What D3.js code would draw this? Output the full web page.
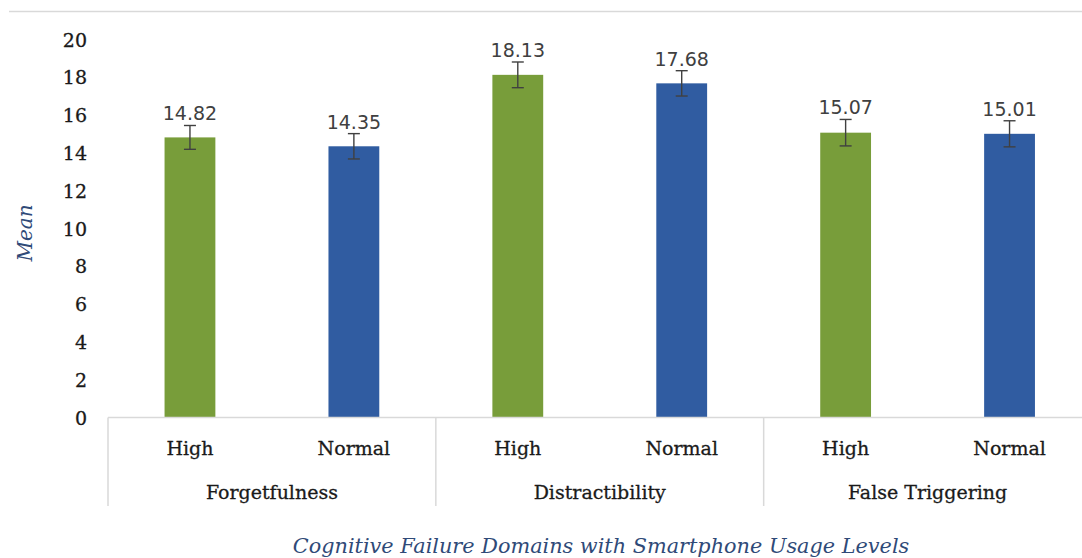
<!DOCTYPE html>
<html>
<head>
<meta charset="utf-8">
<script src="https://cdn.jsdelivr.net/npm/d3@7"></script>
<style>
  html, body { margin: 0; padding: 0; background: #fff; }
  svg { display: block; }
</style>
</head>
<body>
<svg id="chart" width="1082" height="558"></svg>
<script>
// ---- data ----
const domains = ["Forgetfulness", "Distractibility", "False Triggering"];
const levels = ["High", "Normal"];
const highMeans = [14.82, 18.13, 15.07];
const normalMeans = [14.35, 17.68, 15.01];
const highErrors = [0.63, 0.68, 0.70];
const normalErrors = [0.67, 0.67, 0.69];
const yTicks = [0, 2, 4, 6, 8, 10, 12, 14, 16, 18, 20];
const yTitle = "Mean";
const xTitle = "Cognitive Failure Domains with Smartphone Usage Levels";

const colors = { High: "#789d3a", Normal: "#305ca1" };

// build rows
const rows = [];
domains.forEach((d, i) => {
  rows.push({ key: d + "|High", domain: d, level: "High", value: highMeans[i], err: highErrors[i] });
  rows.push({ key: d + "|Normal", domain: d, level: "Normal", value: normalMeans[i], err: normalErrors[i] });
});

const svg = d3.select("#chart");
const left = 108, right = 1091.5, y0 = 417.5, yTop = 39.5;

const x = d3.scaleBand()
  .domain(rows.map(r => r.key))
  .range([left, right])
  .paddingInner(0.69)
  .paddingOuter(0.345);

const y = d3.scaleLinear().domain([0, 20]).range([y0, yTop]);

// top border line
svg.append("line")
  .attr("x1", 9).attr("x2", 1082).attr("y1", 11.5).attr("y2", 11.5)
  .attr("stroke", "#d9d9d9").attr("stroke-width", 1.5);

// y tick labels via axis
const yAxis = d3.axisLeft(y).tickValues(yTicks).tickSize(0).tickPadding(0).tickFormat(d3.format("d"));
const yg = svg.append("g").attr("transform", "translate(87,0)").call(yAxis);
yg.select(".domain").remove();
yg.selectAll("text")
  .attr("font-family", "'DejaVu Serif', serif")
  .attr("font-size", 19)
  .attr("fill", "#1a1a1a")
  .attr("stroke", "#1a1a1a")
  .attr("stroke-width", 0.3)
  .attr("dy", "0.35em");

// bars
svg.append("g").selectAll("rect").data(rows).join("rect")
  .attr("x", d => x(d.key))
  .attr("width", x.bandwidth())
  .attr("y", d => y(d.value))
  .attr("height", d => y(0) - y(d.value))
  .attr("fill", d => colors[d.level]);

// error bars
const eg = svg.append("g").attr("stroke", "#404040").attr("stroke-width", 1.4);
rows.forEach(r => {
  const cx = x(r.key) + x.bandwidth() / 2;
  const t = y(r.value + r.err), b = y(r.value - r.err);
  eg.append("line").attr("x1", cx).attr("x2", cx).attr("y1", t).attr("y2", b);
  eg.append("line").attr("x1", cx - 6).attr("x2", cx + 6).attr("y1", t).attr("y2", t);
  eg.append("line").attr("x1", cx - 6).attr("x2", cx + 6).attr("y1", b).attr("y2", b);
});

// value labels
svg.append("g").selectAll("text").data(rows).join("text")
  .attr("x", d => x(d.key) + x.bandwidth() / 2)
  .attr("y", d => y(d.value + d.err) - 5)
  .attr("text-anchor", "middle")
  .attr("font-family", "'DejaVu Sans', sans-serif")
  .attr("font-size", 19)
  .attr("fill", "#404040")
  .text(d => d.value.toFixed(2));

// x axis baseline
svg.append("line")
  .attr("x1", left).attr("x2", 1082).attr("y1", y0).attr("y2", y0)
  .attr("stroke", "#d9d9d9").attr("stroke-width", 1.5);

// group separators
const groupEdges = domains.map((d, i) => x(d + "|High") - x.step() * x.paddingOuter()).concat([right]);
svg.append("g").selectAll("line").data(groupEdges).join("line")
  .attr("x1", d => d).attr("x2", d => d)
  .attr("y1", y0).attr("y2", 506)
  .attr("stroke", "#d9d9d9").attr("stroke-width", 1.5);

// level labels
svg.append("g").selectAll("text").data(rows).join("text")
  .attr("x", d => x(d.key) + x.bandwidth() / 2)
  .attr("y", 455)
  .attr("text-anchor", "middle")
  .attr("font-family", "'DejaVu Serif', serif")
  .attr("font-size", 19)
  .attr("fill", "#1a1a1a")
  .attr("stroke", "#1a1a1a")
  .attr("stroke-width", 0.3)
  .text(d => d.level);

// domain labels
svg.append("g").selectAll("text").data(domains).join("text")
  .attr("x", d => (x(d + "|High") + x(d + "|Normal") + x.bandwidth()) / 2)
  .attr("y", 499)
  .attr("text-anchor", "middle")
  .attr("font-family", "'DejaVu Serif', serif")
  .attr("font-size", 19)
  .attr("fill", "#1a1a1a")
  .attr("stroke", "#1a1a1a")
  .attr("stroke-width", 0.3)
  .text(d => d);

// axis titles
svg.append("text")
  .attr("transform", "translate(32,233) rotate(-90)")
  .attr("text-anchor", "middle")
  .attr("font-family", "'DejaVu Serif', serif")
  .attr("font-style", "italic")
  .attr("font-size", 20)
  .attr("fill", "#2f4a78")
  .text(yTitle);

svg.append("text")
  .attr("x", 601).attr("y", 553)
  .attr("text-anchor", "middle")
  .attr("font-family", "'DejaVu Serif', serif")
  .attr("font-style", "italic")
  .attr("font-size", 20.8)
  .attr("fill", "#2f4a78")
  .text(xTitle);
</script>
</body>
</html>
